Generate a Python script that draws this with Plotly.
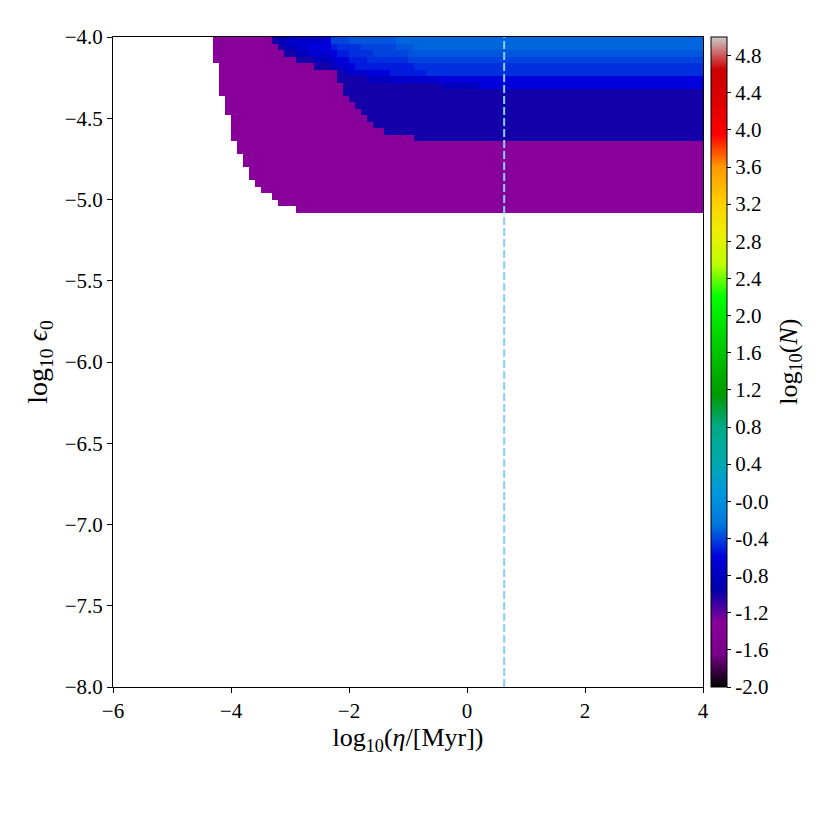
import numpy as np
import plotly.graph_objects as go

# ---------------- data ----------------
# grid of log10(eta/Myr) cells (0.1 wide) and log10(eps0) rows (0.04 tall, from top)
eta_min, eta_max, eta_step = -6.0, 4.0, 0.1
eps_top, eps_step = -4.0, 0.04
n_rows = 27

# log10(N) levels present in the map
levels = [-1.30, -1.00, -0.82, -0.70, -0.60, -0.52, -0.46, -0.40, -0.35, -0.30]

# per row (top -> bottom): (log10 eta where the level starts, level index)
row_segments = [
    [(-4.3, 0), (-3.3, 1), (-3.2, 2), (-3.0, 3), (-2.4, 4), (-2.3, 7), (-2.0, 8), (-1.2, 9)],
    [(-4.3, 0), (-3.2, 1), (-3.1, 2), (-2.9, 3), (-2.7, 4), (-2.3, 5), (-2.2, 6), (-1.8, 7), (-1.2, 8), (-0.9, 9)],
    [(-4.3, 0), (-3.1, 1), (-2.9, 2), (-2.7, 3), (-2.3, 4), (-2.2, 5), (-2.0, 6), (-1.6, 7), (-1.0, 8)],
    [(-4.3, 0), (-2.9, 1), (-2.6, 2), (-2.3, 3), (-2.2, 4), (-2.0, 5), (-1.7, 6), (-1.0, 7)],
    [(-4.2, 0), (-2.6, 1), (-2.3, 2), (-2.2, 3), (-2.0, 4), (-1.9, 5), (-0.9, 6)],
    [(-4.2, 0), (-2.2, 1), (-2.1, 2), (-2.0, 3), (-1.7, 4), (-1.3, 5), (-0.7, 6)],
    [(-4.2, 0), (-2.2, 1), (-1.7, 2), (-1.3, 3), (-0.5, 4)],
    [(-4.2, 0), (-2.1, 1), (-0.4, 2), (0.2, 4)],
    [(-4.2, 0), (-2.1, 1)],
    [(-4.1, 0), (-2.0, 1)],
    [(-4.1, 0), (-1.9, 1)],
    [(-4.1, 0), (-1.8, 1)],
    [(-4.0, 0), (-1.7, 1)],
    [(-4.0, 0), (-1.6, 1)],
    [(-4.0, 0), (-1.4, 1)],
    [(-4.0, 0), (-0.9, 1)],
    [(-3.9, 0)],
    [(-3.9, 0)],
    [(-3.8, 0)],
    [(-3.8, 0)],
    [(-3.7, 0)],
    [(-3.7, 0)],
    [(-3.6, 0)],
    [(-3.5, 0)],
    [(-3.3, 0)],
    [(-3.2, 0)],
    [(-2.9, 0)],
]

eta_line = 0.63  # dashed vertical line

cbar_tickvals = [-2.0, -1.6, -1.2, -0.8, -0.4, 0.0, 0.4, 0.8, 1.2, 1.6, 2.0, 2.4,
                 2.8, 3.2, 3.6, 4.0, 4.4, 4.8]
cbar_ticktext = ["-2.0", "-1.6", "-1.2", "-0.8", "-0.4", "-0.0", "0.4", "0.8", "1.2",
                 "1.6", "2.0", "2.4", "2.8", "3.2", "3.6", "4.0", "4.4", "4.8"]

# ---------------- build grid ----------------
n_cols = int(round((eta_max - eta_min) / eta_step))
x_centers = eta_min + eta_step * (np.arange(n_cols) + 0.5)
y_centers = eps_top - eps_step * (np.arange(n_rows) + 0.5)

z = np.full((n_rows, n_cols), np.nan)
for r, segs in enumerate(row_segments):
    for k, (x0, li) in enumerate(segs):
        c0 = int(round((x0 - eta_min) / eta_step))
        c1 = n_cols if k == len(segs) - 1 else int(round((segs[k + 1][0] - eta_min) / eta_step))
        z[r, c0:c1] = levels[li]

# nipy_spectral colormap
ns_pos = [0.0, 0.05, 0.10, 0.15, 0.20, 0.25, 0.30, 0.35, 0.40, 0.45, 0.50,
          0.55, 0.60, 0.65, 0.70, 0.75, 0.80, 0.85, 0.90, 0.95, 1.0]
ns_r = [0.0, 0.4667, 0.5333, 0.0, 0.0, 0.0, 0.0, 0.0, 0.0, 0.0, 0.0,
        0.0, 0.0, 0.7333, 0.9333, 1.0, 1.0, 1.0, 0.8667, 0.80, 0.80]
ns_g = [0.0, 0.0, 0.0, 0.0, 0.0, 0.4667, 0.6, 0.6667, 0.6667, 0.6, 0.7333,
        0.8667, 1.0, 1.0, 0.9333, 0.8, 0.6, 0.0, 0.0, 0.0, 0.80]
ns_b = [0.0, 0.5333, 0.6, 0.6667, 0.8667, 0.8667, 0.8667, 0.6667, 0.5333, 0.0, 0.0,
        0.0, 0.0, 0.0, 0.0, 0.0, 0.0, 0.0, 0.0, 0.0, 0.80]
colorscale = [[p, "rgb(%d,%d,%d)" % (round(r * 255), round(g * 255), round(b * 255))]
              for p, r, g, b in zip(ns_pos, ns_r, ns_g, ns_b)]

FONT = "Liberation Serif"

fig = go.Figure()
fig.add_trace(go.Heatmap(
    x=x_centers, y=y_centers, z=z,
    zmin=-2.0, zmax=5.0, colorscale=colorscale,
    hoverongaps=False,
    colorbar=dict(
        x=1.0, xanchor="left", xref="paper", xpad=8,
        y=0.5, yanchor="middle", len=1.0, lenmode="fraction", ypad=0,
        thickness=16, outlinewidth=1, outlinecolor="black",
        tickvals=cbar_tickvals, ticktext=cbar_ticktext,
        ticks="outside", ticklen=4, tickcolor="black",
        tickfont=dict(family=FONT, size=21, color="black"),
    ),
))
fig.add_trace(go.Scatter(
    x=[eta_line, eta_line], y=[-8.0, -4.0], mode="lines",
    line=dict(color="#87cefa", width=2, dash="8px,3px"),
    showlegend=False, hoverinfo="skip",
))

# page body has an 8px margin in the browser: compensate
fig.update_layout(
    width=822, height=822,
    margin=dict(l=105, r=127, t=29, b=143),
    plot_bgcolor="white", paper_bgcolor="white",
    font=dict(family=FONT, size=21, color="black"),
    showlegend=False,
    annotations=[dict(
        text="log<sub>10</sub>(<i>N</i>)", textangle=-90,
        xref="paper", yref="paper", x=1.147, y=0.5,
        xanchor="center", yanchor="middle", showarrow=False,
        font=dict(family=FONT, size=26, color="black"),
    )],
)
fig.update_xaxes(
    range=[-6, 4], tickvals=[-6, -4, -2, 0, 2, 4],
    ticks="outside", ticklen=5, tickcolor="black",
    showline=True, mirror=True, linecolor="black", linewidth=1,
    showgrid=False, zeroline=False,
    tickfont=dict(family=FONT, size=21),
    title=dict(text="log<sub>10</sub>(<i>η</i>/[Myr])", font=dict(family=FONT, size=26), standoff=2),
)
fig.update_yaxes(
    range=[-8, -4], dtick=0.5, tick0=-8, tickformat=".1f",
    ticks="outside", ticklen=5, tickcolor="black",
    showline=True, mirror=True, linecolor="black", linewidth=1,
    showgrid=False, zeroline=False,
    tickfont=dict(family=FONT, size=21),
    title=dict(text="log<sub>10</sub> <i>ϵ</i><sub>0</sub>", font=dict(family=FONT, size=28), standoff=8),
)

fig.write_html("out.html")
